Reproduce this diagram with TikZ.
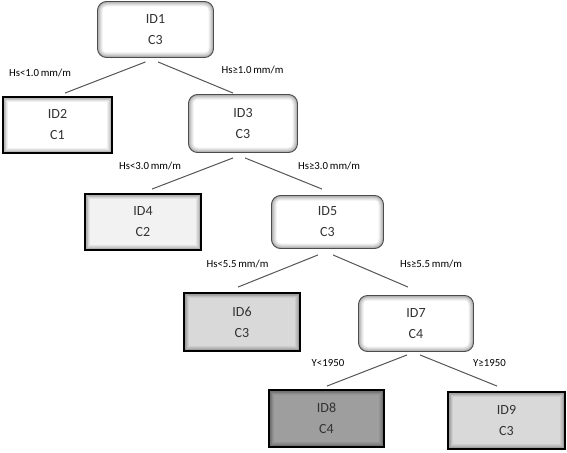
\documentclass[tikz,border=0pt]{standalone}
\usepackage{fontspec}
\setmainfont{Carlito}
\usetikzlibrary{calc}
\definecolor{txtgray}{HTML}{333333}
\definecolor{linegray}{HTML}{555555}
\tikzset{
  glow/.style={path picture={
    \foreach \w in {10,8,6,4.5,3,2}{
      \draw[line width=\w pt, draw=black, draw opacity=0.06, rounded corners=#1]
        (path picture bounding box.south west) rectangle (path picture bounding box.north east);}
  }},
  idtext/.style={text=txtgray, align=center, font=\fontsize{14}{21}\selectfont, inner sep=0pt},
  rbox/.style={idtext, draw=black!70, line width=0.9pt, rounded corners=9pt, fill=white, glow=9pt},
  sbox/.style={idtext, draw=black, line width=2.4pt, glow=0pt},
  conn/.style={draw=linegray, line width=1pt},
  lbl/.style={font=\fontsize{10.8}{12}\selectfont, inner sep=0pt}
}
\begin{document}
\begin{tikzpicture}[x=1pt,y=-1pt]
\useasboundingbox (0,0) rectangle (567,452);
% nodes
\node[rbox, minimum width=116pt, minimum height=56pt] (n1) at (155.5,29.5) {ID1\\C3};
\node[sbox, fill=white, minimum width=108.5pt, minimum height=55.5pt] (n2) at (57.5,125) {ID2\\C1};
\node[rbox, minimum width=109pt, minimum height=58pt] (n3) at (243,123.5) {ID3\\C3};
\node[sbox, fill=black!5, minimum width=115.5pt, minimum height=55.5pt] (n4) at (143,222) {ID4\\C2};
\node[rbox, minimum width=112pt, minimum height=53pt] (n5) at (327.5,222) {ID5\\C3};
\node[sbox, fill=black!15, minimum width=115.5pt, minimum height=57.5pt] (n6) at (242,322) {ID6\\C3};
\node[rbox, minimum width=115pt, minimum height=56pt] (n7) at (416,323.5) {ID7\\C4};
\node[sbox, fill=black!38, minimum width=114.5pt, minimum height=56.5pt] (n8) at (326.5,418.5) {ID8\\C4};
\node[sbox, fill=black!15, minimum width=116.5pt, minimum height=56.5pt] (n9) at (506.5,420.5) {ID9\\C3};
% connectors
\draw[conn] ([shift={(-10,4)}]n1.south) -- ([shift={(7.5,-3)}]n2.north);
\draw[conn] ([shift={(2.5,4)}]n1.south) -- ([shift={(-10,-1)}]n3.north);
\draw[conn] ([shift={(-10,5)}]n3.south) -- ([shift={(9,-4)}]n4.north);
\draw[conn] ([shift={(2,5)}]n3.south) -- ([shift={(-5.5,-6)}]n5.north);
\draw[conn] ([shift={(-9.5,6)}]n5.south) -- ([shift={(-4,-5)}]n6.north);
\draw[conn] ([shift={(5.5,6)}]n5.south) -- ([shift={(-8,-8)}]n7.north);
\draw[conn] ([shift={(-9,3)}]n7.south) -- ([shift={(0.5,-3)}]n8.north);
\draw[conn] ([shift={(4,3)}]n7.south) -- ([shift={(-9.5,-5)}]n9.north);
% labels
\node[lbl] (l1) at (40,73) {Hs<1.0\,mm/m};
\node[lbl] (l2) at (252.5,70) {Hs≥1.0\,mm/m};
\node[lbl] (l3) at (150,166) {Hs<3.0\,mm/m};
\node[lbl] (l4) at (329,166) {Hs≥3.0\,mm/m};
\node[lbl] (l5) at (237.5,264) {Hs<5.5\,mm/m};
\node[lbl] (l6) at (431,264) {Hs≥5.5\,mm/m};
\node[lbl] (l7) at (328,363) {Y<1950};
\node[lbl] (l8) at (489.5,363) {Y≥1950};
\end{tikzpicture}
\end{document}
